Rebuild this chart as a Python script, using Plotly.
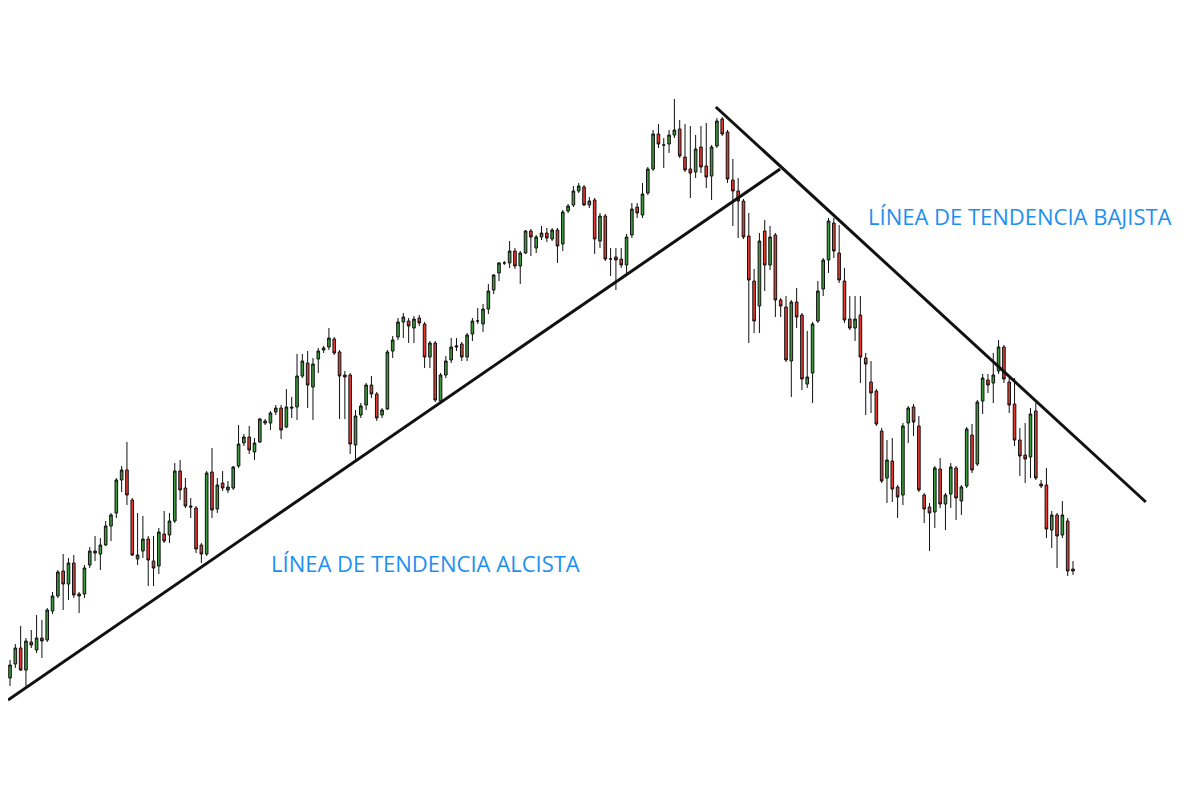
import plotly.graph_objects as go

opens = [130,144,160,138,166,158,170,168,197,212,237,224,245,214,214,243,257,254,263,282,
         295,328,338,308,249,257,269,247,242,274,273,287,337,320,302,300,263,254,336,299,
         325,318,320,342,365,371,356,366,387,385,396,400,381,401,401,432,445,421,449,458,
         461,469,456,433,433,363,393,403,423,414,393,399,457,471,486,487,480,490,484,451,
         465,407,433,448,461,464,451,474,487,484,499,518,535,545,545,557,542,555,577,560,
         571,575,569,578,564,597,603,617,621,603,608,567,592,549,551,549,543,573,601,593,
         615,639,674,663,664,673,679,651,639,636,661,642,632,662,689,676,628,617,607,572,
         527,502,577,543,573,508,501,447,506,493,424,435,487,519,548,585,555,527,489,480,
         493,450,426,417,377,330,347,321,313,385,401,382,313,301,296,339,304,314,340,307,
         322,373,344,407,428,425,437,461,426,404,368,353,351,397,324,323,278,293,273,287,239]
highs = [148,164,182,170,178,193,188,200,216,238,254,250,253,216,243,261,272,270,287,295,
         330,342,366,310,295,292,272,272,280,297,295,345,348,330,310,302,265,337,360,330,
         337,327,342,383,374,382,370,390,389,397,403,403,419,411,454,454,457,450,460,462,
         480,471,458,437,435,398,405,425,432,416,400,458,472,490,495,490,492,493,486,467,
         467,435,452,470,470,466,475,490,500,504,524,534,546,547,567,560,557,578,579,573,
         582,580,580,580,598,604,622,625,623,611,610,595,594,560,560,560,574,605,605,625,
         641,678,684,670,678,709,688,684,682,673,682,685,663,690,691,678,649,630,609,595,
         539,575,588,582,575,510,512,508,520,495,477,486,527,550,590,590,583,540,512,512,
         512,455,447,419,380,368,370,323,385,402,404,392,315,305,342,350,315,345,342,323,
         381,384,408,434,434,455,468,463,430,430,380,385,400,405,328,340,297,295,307,290,247]
lows = [122,140,137,122,160,155,150,166,194,210,198,208,210,195,210,240,247,238,262,267,
        290,316,303,252,243,250,222,222,234,265,265,285,308,300,290,255,245,252,290,295,
        317,315,318,340,362,354,348,365,383,378,393,369,380,390,388,430,400,388,435,455,
        458,453,389,389,354,347,390,398,410,387,390,398,450,468,470,465,465,482,440,440,
        406,405,430,445,457,447,447,467,484,476,494,514,527,543,540,539,524,554,552,555,
        568,566,567,545,557,595,601,615,602,600,554,560,547,532,518,540,535,570,590,590,
        613,637,660,640,655,670,650,636,610,630,635,620,608,660,672,625,582,570,569,465,
        475,475,517,538,491,491,446,411,480,418,420,405,485,512,535,550,525,485,478,467,
        425,393,395,382,325,305,306,290,303,365,372,316,285,257,280,300,278,300,288,293,
        320,335,342,394,415,405,434,425,395,362,332,325,330,328,320,270,260,240,270,232,233]
closes = [143,160,138,167,163,170,167,198,212,236,224,245,213,212,240,257,255,263,282,293,
          328,338,313,253,253,269,248,240,276,267,287,337,318,302,301,259,254,335,298,323,
          320,321,341,364,371,358,365,389,385,395,400,378,401,400,432,447,423,444,457,460,
          470,455,432,431,364,392,402,423,414,390,398,456,468,486,491,482,489,485,451,465,
          408,433,447,461,462,451,473,487,487,499,517,533,545,545,557,542,555,577,571,571,
          575,570,578,562,596,602,617,622,603,607,569,592,549,549,548,543,571,599,595,614,
          639,674,664,663,673,678,652,638,635,659,641,631,661,687,674,629,617,607,571,528,
          487,567,543,571,508,502,448,506,491,429,431,484,517,548,587,557,528,488,480,489,
          451,444,415,384,327,348,319,311,382,400,386,318,299,295,340,304,313,341,310,321,
          379,338,406,430,423,433,461,429,403,368,352,349,394,330,322,279,293,272,293,237,237]

# trend lines (candle index, price)
up_x = [-0.38, 144.9]
up_y = [108, 639]
down_x = [132.8, 213.7]
down_y = [701, 306]

label_up = "LÍNEA DE TENDENCIA ALCISTA"
label_down = "LÍNEA DE TENDENCIA BAJISTA"

idx = list(range(len(opens)))

fig = go.Figure()
fig.add_trace(go.Candlestick(
    x=idx, open=opens, high=highs, low=lows, close=closes,
    increasing=dict(fillcolor="#3c9a3c", line=dict(color="#111111", width=1)),
    decreasing=dict(fillcolor="#e53a2f", line=dict(color="#111111", width=1)),
    whiskerwidth=0,
    showlegend=False,
))
fig.add_trace(go.Scatter(x=up_x, y=up_y, mode="lines",
                         line=dict(color="#111111", width=3), showlegend=False))
fig.add_trace(go.Scatter(x=down_x, y=down_y, mode="lines",
                         line=dict(color="#111111", width=3), showlegend=False))

fig.add_annotation(x=78.1, y=245, text=label_up, showarrow=False,
                   font=dict(family="Open Sans", size=22, color="#1e8ff0"))
fig.add_annotation(x=190, y=592, text=label_down, showarrow=False,
                   font=dict(family="Open Sans", size=22, color="#1e8ff0"))

fig.update_layout(
    width=1200, height=800,
    margin=dict(l=0, r=0, t=0, b=0),
    paper_bgcolor="white", plot_bgcolor="white",
    xaxis=dict(range=[-0.38, 225.4], visible=False, rangeslider=dict(visible=False)),
    yaxis=dict(range=[0, 800], visible=False),
)

fig.write_html("out.html")
